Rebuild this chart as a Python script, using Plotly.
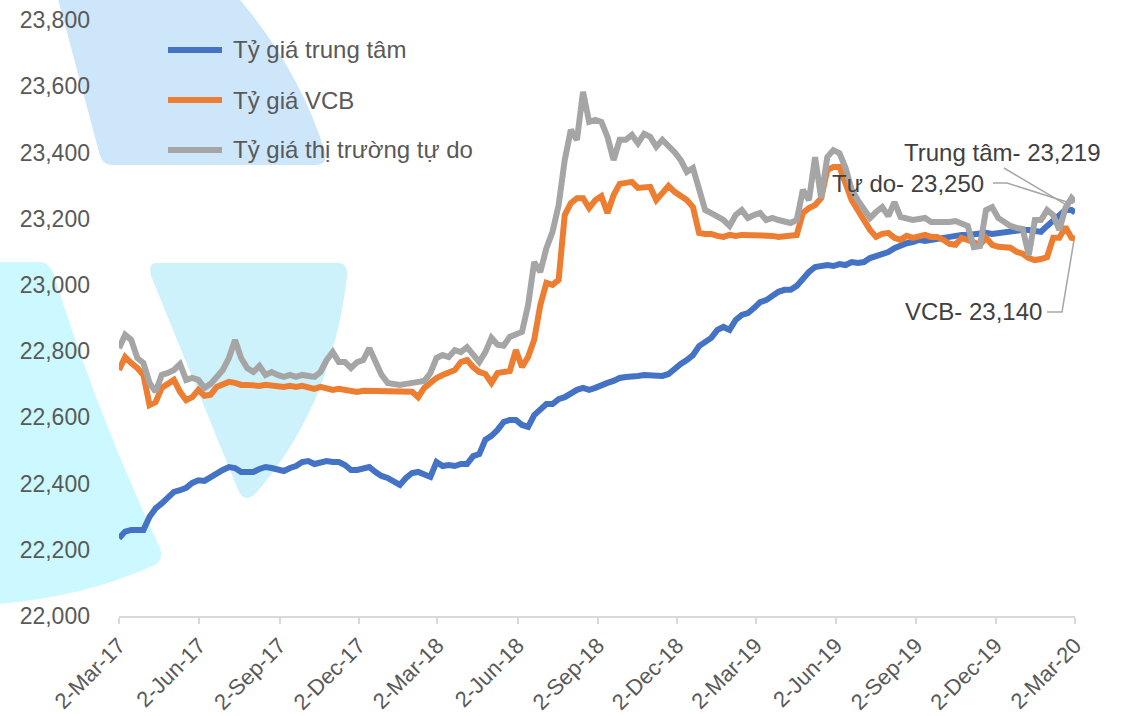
import pandas as pd
import plotly.graph_objects as go

# Weekly observations, 2 Mar 2017 -> 2 Mar 2020 (VND per USD)
dates = list(pd.date_range("2017-03-02", periods=157, freq="7D").strftime("%Y-%m-%d")) + ["2020-03-02"]

central_rate = [
    22235, 22255, 22260, 22258, 22260, 22300, 22325, 22340, 22355, 22375,
    22380, 22387, 22402, 22410, 22408, 22420, 22432, 22441, 22450, 22447,
    22435, 22435, 22435, 22444, 22450, 22447, 22444, 22438, 22447, 22453,
    22465, 22468, 22459, 22462, 22468, 22465, 22465, 22456, 22441, 22441,
    22447, 22450, 22435, 22423, 22417, 22405, 22396, 22417, 22432, 22435,
    22429, 22420, 22465, 22453, 22456, 22453, 22459, 22459, 22483, 22489,
    22532, 22544, 22562, 22586, 22592, 22592, 22577, 22571, 22607, 22622,
    22640, 22640, 22655, 22661, 22673, 22683, 22689, 22683, 22689, 22698,
    22704, 22710, 22719, 22722, 22722, 22725, 22728, 22728, 22728, 22725,
    22731, 22749, 22761, 22773, 22788, 22815, 22828, 22840, 22864, 22873,
    22864, 22894, 22909, 22915, 22930, 22948, 22954, 22966, 22979, 22985,
    22985, 22997, 23021, 23039, 23054, 23057, 23060, 23057, 23063, 23060,
    23069, 23066, 23069, 23081, 23087, 23096, 23099, 23111, 23120, 23126,
    23129, 23136, 23133, 23136, 23142, 23142, 23145, 23148, 23151, 23151,
    23154, 23157, 23157, 23154, 23157, 23160, 23160, 23163, 23166, 23166,
    23163, 23160, 23178, 23196, 23214, 23226, 23226, 23219,
]

vcb_rate = [
    22743, 22782, 22764, 22749, 22728, 22637, 22646, 22689, 22701, 22713,
    22677, 22652, 22661, 22683, 22665, 22668, 22692, 22698, 22707, 22704,
    22698, 22698, 22695, 22695, 22698, 22695, 22695, 22692, 22695, 22692,
    22695, 22689, 22686, 22692, 22686, 22683, 22686, 22683, 22680, 22677,
    22680, 22680, 22677, 22677, 22677, 22677, 22677, 22677, 22677, 22661,
    22689, 22704, 22719, 22728, 22734, 22743, 22767, 22773, 22752, 22737,
    22731, 22704, 22734, 22737, 22740, 22803, 22752, 22782, 22834, 22939,
    23006, 23000, 23015, 23211, 23247, 23262, 23262, 23232, 23256, 23268,
    23217, 23271, 23305, 23308, 23311, 23293, 23296, 23296, 23256, 23278,
    23299, 23281, 23266, 23256, 23235, 23157, 23154, 23154, 23148, 23145,
    23151, 23148, 23151, 23151, 23148, 23148, 23148, 23148, 23145, 23148,
    23148, 23151, 23217, 23232, 23241, 23262, 23347, 23356, 23356, 23302,
    23256, 23226, 23196, 23166, 23145, 23154, 23157, 23142, 23136, 23148,
    23142, 23145, 23151, 23145, 23145, 23136, 23124, 23121, 23142, 23136,
    23127, 23121, 23142, 23121, 23115, 23115, 23112, 23100, 23094, 23081,
    23075, 23078, 23084, 23142, 23142, 23175, 23142, 23140,
]

free_market_rate = [
    22809, 22849, 22834, 22779, 22764, 22704, 22677, 22728, 22734, 22743,
    22761, 22713, 22719, 22713, 22689, 22701, 22722, 22743, 22779, 22834,
    22779, 22749, 22737, 22755, 22728, 22737, 22728, 22722, 22728, 22722,
    22728, 22725, 22722, 22737, 22773, 22797, 22767, 22767, 22749, 22767,
    22773, 22809, 22767, 22728, 22704, 22701, 22698, 22701, 22704, 22704,
    22710, 22734, 22779, 22788, 22782, 22803, 22797, 22812, 22788, 22767,
    22797, 22840, 22819, 22816, 22843, 22849, 22858, 22939, 23069, 23039,
    23111, 23160, 23241, 23377, 23468, 23438, 23583, 23492, 23498, 23492,
    23447, 23377, 23438, 23438, 23453, 23428, 23456, 23447, 23417, 23438,
    23422, 23401, 23377, 23341, 23353, 23287, 23226, 23217, 23205, 23196,
    23178, 23211, 23226, 23202, 23211, 23217, 23196, 23202, 23196, 23190,
    23187, 23196, 23287, 23256, 23386, 23262, 23386, 23407, 23398, 23353,
    23287, 23256, 23226, 23202, 23220, 23235, 23208, 23250, 23205, 23202,
    23196, 23199, 23202, 23190, 23190, 23187, 23190, 23193, 23187, 23178,
    23114, 23117, 23226, 23235, 23202, 23190, 23178, 23172, 23169, 23090,
    23196, 23196, 23226, 23211, 23166, 23232, 23262, 23250,
]

series_names = ["Tỷ giá trung tâm", "Tỷ giá VCB", "Tỷ giá thị trường tự do"]
series_colors = ["#4472C4", "#ED7D31", "#A5A5A5"]

tick_dates = ["2017-03-02", "2017-06-02", "2017-09-02", "2017-12-02",
              "2018-03-02", "2018-06-02", "2018-09-02", "2018-12-02",
              "2019-03-02", "2019-06-02", "2019-09-02", "2019-12-02", "2020-03-02"]
tick_labels = ["2-Mar-17", "2-Jun-17", "2-Sep-17", "2-Dec-17",
               "2-Mar-18", "2-Jun-18", "2-Sep-18", "2-Dec-18",
               "2-Mar-19", "2-Jun-19", "2-Sep-19", "2-Dec-19", "2-Mar-20"]

end_labels = ["Trung tâm- 23,219", "Tự do- 23,250", "VCB- 23,140"]

# Canvas and plot-area geometry (pixels)
FIG_W, FIG_H = 1124, 716
LEFT, RIGHT, TOP, BOTTOM = 119, 1075, 20, 616
PW, PH = RIGHT - LEFT, BOTTOM - TOP


def to_paper(x, y):
    return (x - LEFT) / PW, (BOTTOM - y) / PH


def svg_path(segments, close=True):
    parts = []
    for cmd, pts in segments:
        coords = " ".join("%.4f,%.4f" % to_paper(x, y) for x, y in pts)
        parts.append(cmd + coords)
    return " ".join(parts) + (" Z" if close else "")


FONT = "Liberation Sans, Arial, sans-serif"
AXIS_TXT = "#595959"
NOTE_TXT = "#404040"

fig = go.Figure()
for name, values, color in zip(series_names, [central_rate, vcb_rate, free_market_rate], series_colors):
    fig.add_trace(go.Scatter(
        x=dates, y=values, name=name, mode="lines",
        line=dict(color=color, width=6, shape="linear"),
        showlegend=False,
    ))

shapes = []

# Light watermark logo behind the chart
watermark = [
    ("rgb(205,230,250)", [
        ("M", [(57, -5)]), ("L", [(236, -5)]),
        ("Q", [(300, 70), (325, 152)]),
        ("Q", [(328, 165), (315, 165)]),
        ("L", [(112, 165)]),
        ("Q", [(102, 165), (99, 152)]),
    ]),
    ("rgb(204,249,255)", [
        ("M", [(-5, 262)]), ("L", [(40, 262)]),
        ("Q", [(52, 262), (57, 285)]),
        ("Q", [(100, 420), (160, 548)]),
        ("Q", [(165, 562), (150, 567)]),
        ("Q", [(80, 598), (-5, 604)]),
    ]),
    ("rgb(205,242,252)", [
        ("M", [(156, 263)]), ("L", [(339, 263)]),
        ("Q", [(348, 263), (347, 276)]),
        ("Q", [(340, 340), (315, 400)]),
        ("Q", [(290, 455), (255, 494)]),
        ("Q", [(246, 503), (239, 492)]),
        ("L", [(151, 276)]),
        ("Q", [(148, 263), (156, 263)]),
    ]),
]
for fill, segs in watermark:
    shapes.append(dict(type="path", xref="paper", yref="paper", layer="below",
                       path=svg_path(segs), fillcolor=fill, line=dict(width=0)))

# Legend keys
legend_rows = [50, 100, 150]
annotations = []
for name, color, yy in zip(series_names, series_colors, legend_rows):
    x0, y0 = to_paper(168, yy)
    x1, _ = to_paper(222, yy)
    shapes.append(dict(type="line", xref="paper", yref="paper", x0=x0, x1=x1, y0=y0, y1=y0,
                       line=dict(color=color, width=6)))
    tx, ty = to_paper(231, yy)
    annotations.append(dict(xref="paper", yref="paper", x=tx, y=ty, text=name, showarrow=False,
                            xanchor="left", yanchor="middle",
                            font=dict(family=FONT, size=24, color=AXIS_TXT)))

# End-value callouts with leader lines
callouts = [
    (end_labels[0], (1002, 152), [(1004, 168), (1070, 207)]),
    (end_labels[1], (908, 183), [(993, 183), (1007, 183), (1070, 203)]),
    (end_labels[2], (973, 311), [(1047, 312), (1062, 312), (1074, 240)]),
]
for text, (cx, cy), pts in callouts:
    ax_, ay_ = to_paper(cx, cy)
    annotations.append(dict(xref="paper", yref="paper", x=ax_, y=ay_, text=text, showarrow=False,
                            xanchor="center", yanchor="middle",
                            font=dict(family=FONT, size=24, color=NOTE_TXT)))
    segs = [("M", [pts[0]])] + [("L", [p]) for p in pts[1:]]
    shapes.append(dict(type="path", xref="paper", yref="paper", path=svg_path(segs, close=False),
                       line=dict(color="#A6A6A6", width=1.5)))

fig.update_layout(
    width=FIG_W, height=FIG_H,
    margin=dict(l=LEFT, r=FIG_W - RIGHT, t=TOP, b=FIG_H - BOTTOM, pad=0, autoexpand=False),
    paper_bgcolor="white", plot_bgcolor="rgba(0,0,0,0)",
    font=dict(family=FONT, size=23, color=AXIS_TXT),
    shapes=shapes, annotations=annotations,
    xaxis=dict(
        type="date", range=["2017-03-02", "2020-03-02"], automargin=False,
        tickmode="array", tickvals=tick_dates, ticktext=tick_labels, tickangle=-45,
        showgrid=False, zeroline=False,
        showline=True, linecolor="#D9D9D9", linewidth=2,
        ticks="outside", ticklen=6, tickcolor="#D9D9D9", tickwidth=1.5,
        tickfont=dict(family=FONT, size=22, color=AXIS_TXT),
    ),
    yaxis=dict(
        range=[22000, 23800], dtick=200, tickformat=",", automargin=False,
        showgrid=False, zeroline=False, showline=False, ticks="",
        ticklabelstandoff=28,
        tickfont=dict(family=FONT, size=23, color=AXIS_TXT),
    ),
)

fig.write_html("out.html")
